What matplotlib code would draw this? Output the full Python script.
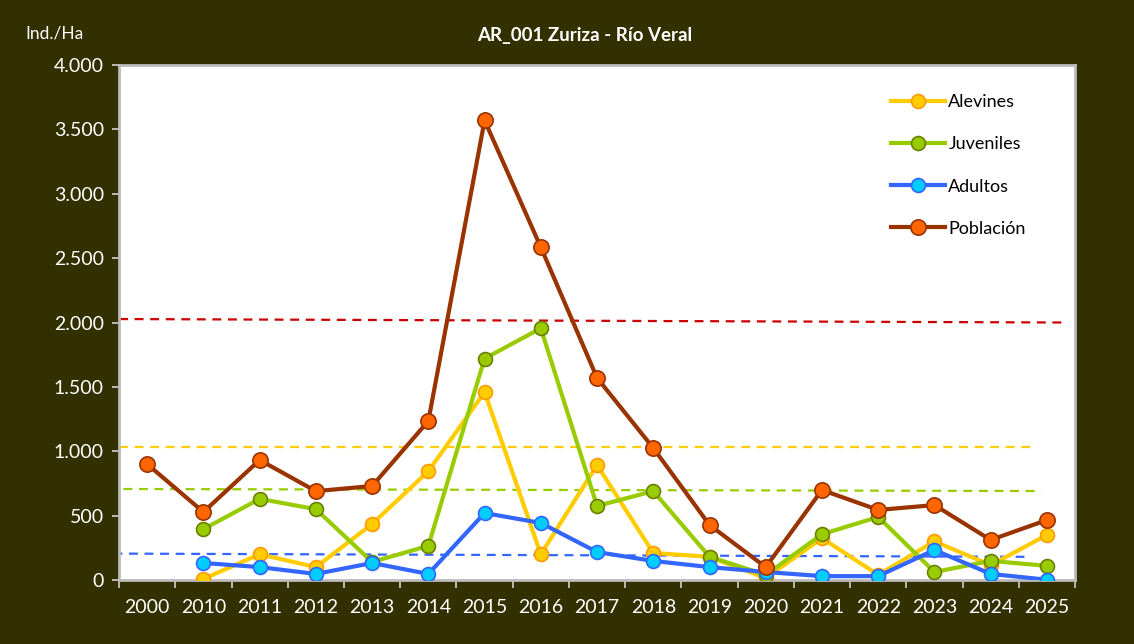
import numpy as np
import matplotlib.pyplot as plt
from matplotlib.ticker import FuncFormatter, FixedLocator

years = ['2000', '2010', '2011', '2012', '2013', '2014', '2015', '2016', '2017',
         '2018', '2019', '2020', '2021', '2022', '2023', '2024', '2025']

# None = no data that year
alevines = [None, 8, 200, 100, 435, 845, 1460, 200, 893, 210, 180, 15, 325, 40, 300, 115, 350]
juveniles = [None, 395, 630, 550, 140, 265, 1720, 1955, 575, 690, 180, 40, 355, 490, 62, 148, 110]
adultos = [None, 132, 100, 47, 132, 47, 520, 443, 217, 148, 100, 62, 30, 30, 233, 47, 2]
poblacion = [900, 528, 932, 690, 730, 1235, 3570, 2585, 1570, 1025, 427, 100, 699, 544, 582, 311, 466]

# dashed reference lines (start value, end value)
ref_poblacion = (2027, 2000)
ref_alevines = (1033, 1033)
ref_juveniles = (707, 691)
ref_adultos = (205, 180)

bg = '#333000'
plt.rcParams['font.family'] = ['Lato', 'DejaVu Sans']

fig = plt.figure(figsize=(11.34, 6.44), dpi=100, facecolor=bg)
ax = fig.add_axes([0.105, 0.0994, 0.843, 0.7996])
ax.set_facecolor('white')

x = np.arange(len(years))

def series(vals):
    return np.array([np.nan if v is None else v for v in vals], dtype=float)

# reference dashed lines
ax.plot([-0.5, 16.3], ref_poblacion, ls=(0, (4, 3)), color='#CC0000', lw=1.6, zorder=1)
ax.plot([-0.5, 15.8], ref_alevines, ls=(0, (4, 3)), color='#FFCC00', lw=1.6, zorder=1)
ax.plot([-0.7, 15.9], ref_juveniles, ls=(0, (4, 3)), color='#99CC00', lw=1.6, zorder=1)
ax.plot([-0.6, 15.6], ref_adultos, ls=(0, (4, 3)), color='#3366FF', lw=1.6, zorder=1)

ax.plot(x, series(alevines), color='#FFCC00', lw=3, marker='o', ms=10,
        mfc='#FFCC00', mec='#FF9900', mew=1.2, label='Alevines', zorder=3)
ax.plot(x, series(juveniles), color='#99CC00', lw=3, marker='o', ms=10,
        mfc='#99CC00', mec='#6B7F00', mew=1.2, label='Juveniles', zorder=3)
ax.plot(x, series(adultos), color='#3366FF', lw=3, marker='o', ms=10,
        mfc='#00CCFF', mec='#3366FF', mew=1.2, label='Adultos', zorder=4)
ax.plot(x, series(poblacion), color='#993300', lw=3, marker='o', ms=11,
        mfc='#FF6600', mec='#993300', mew=1.2, label='Población', zorder=5)

ax.set_xlim(-0.5, len(years) - 0.5)
ax.set_ylim(0, 4000)
ax.set_yticks(np.arange(0, 4001, 500))
ax.yaxis.set_major_formatter(FuncFormatter(lambda v, p: f'{int(v):,}'.replace(',', '.')))
ax.set_xticks(x)
ax.set_xticklabels(years)
ax.xaxis.set_minor_locator(FixedLocator(np.arange(-0.5, len(years), 1)))
ax.tick_params(axis='x', which='major', length=0, pad=14, labelsize=14, labelcolor='white')
ax.tick_params(axis='x', which='minor', length=6, width=1.2, color='#D0D0D0', direction='out')
ax.tick_params(axis='y', length=5, width=1.2, color='#D0D0D0', labelsize=14,
               labelcolor='white', pad=6)

for s in ax.spines.values():
    s.set_color('#BBBBBB')
    s.set_linewidth(2)

leg = ax.legend(loc='upper left', bbox_to_anchor=(0.79, 0.975), frameon=False,
                fontsize=13, handlelength=3.0, labelspacing=1.45, handletextpad=0.2)

fig.text(0.516, 0.945, 'AR_001 Zuriza - Río Veral', color='white', fontsize=13.5,
         fontweight='bold', ha='center', va='center')
fig.text(0.022, 0.948, 'Ind./Ha', color='white', fontsize=12.5, ha='left', va='center')

fig.savefig('out.png', dpi=100, facecolor=bg)
